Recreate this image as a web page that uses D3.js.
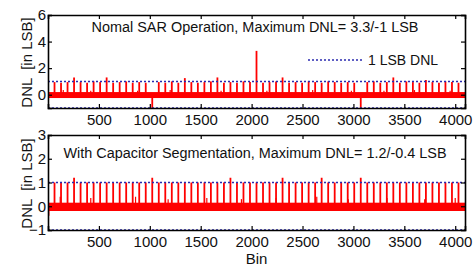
<!DOCTYPE html>
<html lang="en">
<head>
<meta charset="utf-8">
<title>DNL: Normal SAR vs Capacitor Segmentation</title>
<script src="https://d3js.org/d3.v7.min.js"></script>
<style>
  body { margin: 0; background: #fff; }
  svg text { font-family: "Liberation Sans", Arial, sans-serif; fill: #111; }
</style>
</head>
<body>
<div id="chart"></div>
<script>
// ---- data ----
var binDomain = [0, 4096];
var xTicks = [500, 1000, 1500, 2000, 2500, 3000, 3500, 4000];

// major code transitions (every 64th bin)
var spikeBins = [64, 128, 192, 256, 320, 384, 448, 512, 576, 640, 704, 768, 832, 896, 960, 1024,
  1088, 1152, 1216, 1280, 1344, 1408, 1472, 1536, 1600, 1664, 1728, 1792, 1856, 1920, 1984, 2048,
  2112, 2176, 2240, 2304, 2368, 2432, 2496, 2560, 2624, 2688, 2752, 2816, 2880, 2944, 3008, 3072,
  3136, 3200, 3264, 3328, 3392, 3456, 3520, 3584, 3648, 3712, 3776, 3840, 3904, 3968, 4032];

// top panel: normal SAR operation
var topTitle = "Nomal SAR Operation, Maximum DNL= 3.3/-1 LSB";
var topYTicks = [0, 2, 4, 6];
var topBand = [-0.25, 0.2];
var topSpikes = [0.95, 0.9, 0.95, 1.3, 0.95, 0.9, 1.0, 0.95, 1.3, 0.9, 0.95, 1.0, 0.9, 0.95, 0.9, -1.0,
  0.95, 0.9, 1.0, 0.9, 1.25, 0.95, 0.9, 0.95, 1.0, 1.3, 0.9, 0.95, 0.9, 1.0, 0.95, 3.3,
  0.9, 0.95, 1.0, 1.3, 0.9, 0.95, 0.9, 1.0, 0.95, 0.9, 1.0, 0.95, 0.9, 0.95, 0.9, -1.0,
  0.95, 1.0, 0.9, 0.95, 1.3, 0.9, 1.0, 0.95, 0.9, 1.1, 0.95, 0.9, 1.0, 0.95, 0.9];
var topSmallBins = [150, 420, 880, 1200, 1700, 2150, 2600, 2980, 3300, 3600, 3950];
var topSmall = [0.35, 0.3, 0.3, 0.35, 0.3, 0.3, 0.35, 0.3, 0.3, 0.35, 0.3];

// bottom panel: with capacitor segmentation
var botTitle = "With Capacitor Segmentation, Maximum DNL= 1.2/-0.4 LSB";
var botYTicks = [-1, 0, 1, 2, 3];
var botBand = [-0.2, 0.15];
var botSpikes = [1.0, 1.0, 1.0, 1.2, 1.0, 1.0, 1.0, 1.0, 1.0, 1.0, 1.0, 1.0, 1.0, 1.0, 1.0, 1.2,
  1.0, 1.0, 1.0, 1.0, 1.0, 1.0, 1.0, 1.0, 1.0, 1.0, 1.0, 1.2, 1.0, 1.0, 1.0, 1.0,
  1.0, 1.0, 1.0, 1.2, 1.0, 1.0, 1.0, 1.0, 1.0, 1.2, 1.0, 1.0, 1.0, 1.0, 1.0, 1.2,
  1.0, 1.0, 1.0, 1.0, 1.0, 1.0, 1.0, 1.0, 1.0, 1.0, 1.0, 1.0, 1.0, 1.0, 1.0];
var botSmallBins = [8, 120, 420, 860, 1180, 1560, 1900, 2240, 2640, 2950, 3330, 3700, 4000];
var botSmall = [-0.4, 0.4, 0.35, 0.4, 0.3, 0.35, 0.3, 0.35, 0.4, 0.3, 0.35, 0.3, 0.35];

var legendLabel = "1 LSB DNL";
var yLabel = "DNL  [in LSB]";
var xLabel = "Bin";

// ---- drawing ----
var W = 474, H = 267;
var svg = d3.select("#chart").append("svg")
  .attr("width", W).attr("height", H);

var x = d3.scaleLinear().domain(binDomain).range([48, 465]);

function panel(top, bottom, yDomain, yTicks, band, spikes, smallBins, small, title, titleY, titleLen) {
  var y = d3.scaleLinear().domain(yDomain).range([bottom, top]);
  var g = svg.append("g");

  // noise band around zero
  g.append("rect")
    .attr("x", x(binDomain[0])).attr("width", x(binDomain[1]) - x(binDomain[0]))
    .attr("y", y(band[1])).attr("height", y(band[0]) - y(band[1]))
    .attr("fill", "#ff0000");

  // small bumps
  g.selectAll(".small").data(smallBins).enter().append("line")
    .attr("x1", function(d) { return x(d); }).attr("x2", function(d) { return x(d); })
    .attr("y1", y(0)).attr("y2", function(d, i) { return y(small[i]); })
    .attr("stroke", "#ff0000").attr("stroke-width", 1.2);

  // transition spikes
  g.selectAll(".spike").data(spikeBins).enter().append("line")
    .attr("x1", function(d) { return x(d); }).attr("x2", function(d) { return x(d); })
    .attr("y1", y(0)).attr("y2", function(d, i) { return y(spikes[i]); })
    .attr("stroke", "#ff0000").attr("stroke-width", 1.8);

  // 1 LSB limits
  [1, -1].forEach(function(v) {
    g.append("line")
      .attr("x1", x(binDomain[0])).attr("x2", x(binDomain[1]))
      .attr("y1", y(v)).attr("y2", y(v))
      .attr("stroke", "#2b2bb0").attr("stroke-width", 1.6)
      .attr("stroke-dasharray", "2,2");
  });

  // axes (MATLAB style, ticks inside, boxed)
  var ax = g.append("g").attr("transform", "translate(0," + bottom + ")")
    .call(d3.axisBottom(x).tickValues(xTicks).tickSize(-4).tickPadding(6).tickFormat(d3.format("d")));
  ax.selectAll("text").style("font-size", "15px");
  g.append("g").attr("transform", "translate(0," + top + ")")
    .call(d3.axisTop(x).tickValues(xTicks).tickSize(-4).tickFormat(""));
  var ay = g.append("g").attr("transform", "translate(" + x(binDomain[0]) + ",0)")
    .call(d3.axisLeft(y).tickValues(yTicks).tickSize(-4).tickPadding(2).tickFormat(d3.format("d")));
  ay.selectAll("text").style("font-size", "15px");
  g.append("g").attr("transform", "translate(" + x(binDomain[1]) + ",0)")
    .call(d3.axisRight(y).tickValues(yTicks).tickSize(-4).tickFormat(""));
  g.selectAll(".domain").attr("stroke", "#000").attr("stroke-width", 1.6);
  g.selectAll(".tick line").attr("stroke", "#000").attr("stroke-width", 1.2);

  g.append("text")
    .attr("x", 255).attr("y", titleY)
    .attr("text-anchor", "middle")
    .attr("textLength", titleLen).attr("lengthAdjust", "spacingAndGlyphs")
    .style("font-size", "14px")
    .text(title);

  g.append("text")
    .attr("transform", "translate(32," + ((top + bottom) / 2 + 1) + ") rotate(-90)")
    .attr("text-anchor", "middle")
    .style("font-size", "15px")
    .style("white-space", "pre")
    .attr("xml:space", "preserve")
    .text(yLabel);
  return y;
}

var yTop = panel(15, 108, [-1, 6], topYTicks, topBand, topSpikes, topSmallBins, topSmall, topTitle, 32, 327);
var yBot = panel(135, 230, [-1, 3], botYTicks, botBand, botSpikes, botSmallBins, botSmall, botTitle, 158, 383);

// legend in top panel
svg.append("line")
  .attr("x1", 308).attr("x2", 364)
  .attr("y1", 60).attr("y2", 60)
  .attr("stroke", "#2b2bb0").attr("stroke-width", 1.6)
  .attr("stroke-dasharray", "2,2");
svg.append("text")
  .attr("x", 368).attr("y", 65)
  .style("font-size", "14px")
  .text(legendLabel);

svg.append("text")
  .attr("x", x(2048)).attr("y", 264)
  .attr("text-anchor", "middle")
  .style("font-size", "15px")
  .text(xLabel);
</script>
</body>
</html>
